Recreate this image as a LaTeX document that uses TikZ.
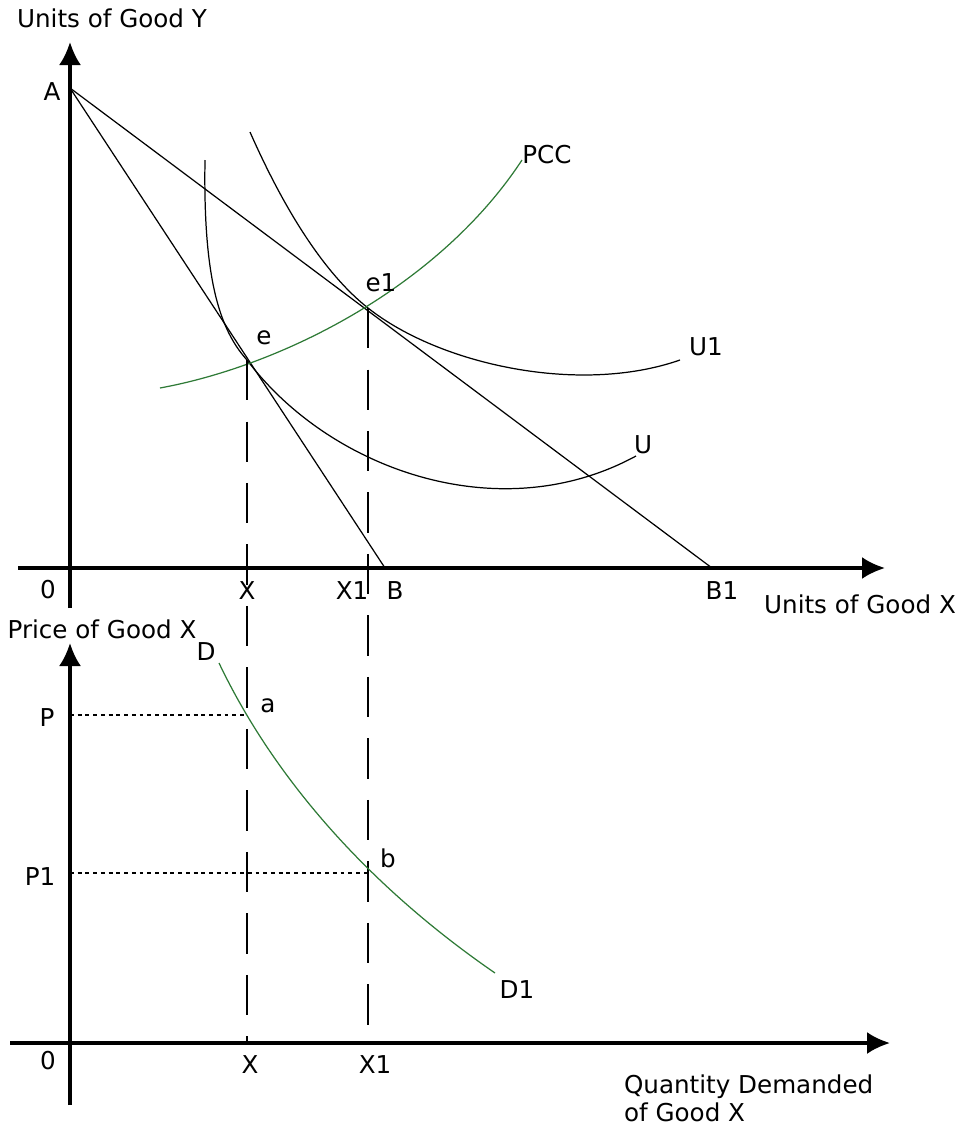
\documentclass[tikz,border=0pt]{standalone}
\usepackage{fontspec}
\setmainfont{DejaVu Sans}
\usetikzlibrary{arrows.meta}
\definecolor{pccGreen}{HTML}{2E7A36}

\begin{document}
\begin{tikzpicture}[
  x=0.02cm, y=-0.02cm,
  axis/.style={line width=1.8pt, -{Latex[length=4.6mm, width=4.4mm]}},
  curve/.style={line width=0.7pt},
  greencurve/.style={curve, draw=pccGreen},
  drop/.style={line width=0.7pt, dash pattern=on 23pt off 12pt},
  guide/.style={line width=0.7pt, dash pattern=on 2.2pt off 2.2pt},
  lbl/.style={font=\fontsize{14}{16}\selectfont, inner sep=1pt},
]
  \useasboundingbox (0,0) rectangle (965,1127);

  % upper panel: indifference map
  \coordinate (A)  at (70,88);
  \coordinate (B)  at (385,568);
  \coordinate (B1) at (712,568);
  \coordinate (e)  at (247,360);
  \coordinate (e1) at (368,308);

  \draw[axis] (70,608) -- (70,42);
  \draw[axis] (18,568) -- (885,568);

  \draw[line width=0.7pt] (A) -- (B);
  \draw[line width=0.7pt] (A) -- (B1);

  \draw[curve] (205,160) .. controls (203,280) and (220,330) .. (e)
    .. controls (330,470) and (500,530) .. (636,456);
  \draw[curve] (250,132) .. controls (280,200) and (320,270) .. (e1)
    .. controls (440,365) and (580,395) .. (680,360);
  \draw[greencurve] (160,388) .. controls (285,365) and (440,285) .. (522,160);

  \node[lbl] (lY)   at (112,18)  {Units of Good Y};
  \node[lbl] (lA)   at (52,92)   {A};
  \node[lbl] (lPCC) at (547,155) {PCC};
  \node[lbl] (le)   at (264,338) {e};
  \node[lbl] (le1)  at (381,283) {e1};
  \node[lbl] (lU1)  at (706,347) {U1};
  \node[lbl] (lU)   at (643,445) {U};
  \node[lbl] (l0)   at (48,590)  {0};
  \node[lbl] (lX)   at (247,591) {X};
  \node[lbl] (lX1)  at (352,591) {X1};
  \node[lbl] (lB)   at (395,591) {B};
  \node[lbl] (lB1)  at (722,591) {B1};
  \node[lbl] (lXax) at (860,604) {Units of Good X};

  % lower panel: demand curve
  \coordinate (a)  at (247,715);
  \coordinate (b)  at (367,873);
  \coordinate (Xbot)  at (247,1043);
  \coordinate (X1bot) at (368,1043);
  \coordinate (Pax)   at (70,715);
  \coordinate (P1ax)  at (70,873);

  \draw[axis] (70,1105) -- (70,643);
  \draw[axis] (10,1043) -- (890,1043);

  \draw[drop] (e) -- (Xbot);
  \draw[drop] (e1) -- (X1bot);
  \draw[guide] (Pax) -- (a);
  \draw[guide] (P1ax) -- (b);

  \draw[greencurve] (219,663) .. controls (270,770) and (360,880) .. (495,973);

  \node[lbl] (lPrice) at (102,629) {Price of Good X};
  \node[lbl] (lD)   at (206,652)  {D};
  \node[lbl] (la)   at (268,706)  {a};
  \node[lbl] (lb)   at (388,858)  {b};
  \node[lbl] (lD1)  at (517,990)  {D1};
  \node[lbl] (lP)   at (47,718)   {P};
  \node[lbl] (lP1)  at (40,877)   {P1};
  \node[lbl] (l0b)  at (48,1061)  {0};
  \node[lbl] (lXb)  at (250,1065) {X};
  \node[lbl] (lX1b) at (375,1065) {X1};
  \node[lbl, align=left, anchor=west] (lQ) at (622,1098)
    {Quantity Demanded\\of Good X};
\end{tikzpicture}
\end{document}
